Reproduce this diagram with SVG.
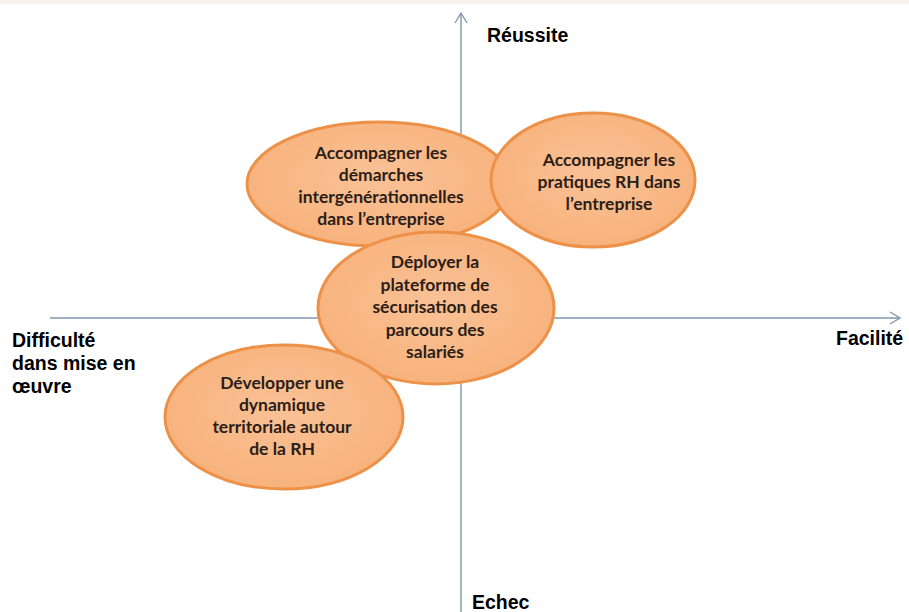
<svg xmlns="http://www.w3.org/2000/svg" width="909" height="612" viewBox="0 0 909 612">
<style>
.ax{stroke:#8196ad;stroke-width:1.4;fill:none}
.el{fill:url(#g);stroke:#EC9147;stroke-width:3}
.t{font-family:Lato,"Noto Sans",sans-serif;font-weight:bold;font-size:17.5px;fill:#2b1d17;text-anchor:middle}
.lab{font-family:"Liberation Sans",Arial,sans-serif;font-weight:bold;font-size:19.5px;fill:#000}
</style>
<defs>
<radialGradient id="g" cx="50%" cy="45%" r="60%">
<stop offset="0" stop-color="#FAC196"/>
<stop offset="1" stop-color="#F7B17A"/>
</radialGradient>
</defs>
<rect x="0" y="0" width="909" height="612" fill="#fff"/>
<rect x="0" y="0" width="909" height="4" fill="#f7f3ea"/>
<g id="axes">
<path class="ax" d="M461,13 V612"/>
<path class="ax" d="M455,23 L461,13 L467,23"/>
<path class="ax" d="M50,318 H900"/>
<path class="ax" d="M890,312 L900,318 L890,324"/>
</g>
<g id="labels">
<text class="lab" x="487" y="42">Réussite</text>
<text class="lab" x="836" y="345">Facilité</text>
<text class="lab" x="472" y="609">Echec</text>
<text class="lab" x="12" y="347">Difficulté</text>
<text class="lab" x="12" y="370">dans mise en</text>
<text class="lab" x="12" y="393">œuvre</text>
</g>
<g id="n1">
<ellipse class="el" cx="379" cy="184" rx="132" ry="62"/>
<text class="t" x="381" y="159">Accompagner les</text>
<text class="t" x="381" y="181">démarches</text>
<text class="t" x="381" y="203">intergénérationnelles</text>
<text class="t" x="381" y="225">dans l’entreprise</text>
</g>
<g id="n2">
<ellipse class="el" cx="593" cy="180" rx="102" ry="67"/>
<text class="t" x="609" y="166">Accompagner les</text>
<text class="t" x="609" y="188">pratiques RH dans</text>
<text class="t" x="609" y="210">l’entreprise</text>
</g>
<g id="n3">
<ellipse class="el" cx="436" cy="308" rx="118" ry="76"/>
<text class="t" x="435" y="268">Déployer la</text>
<text class="t" x="435" y="291">plateforme de</text>
<text class="t" x="435" y="313">sécurisation des</text>
<text class="t" x="435" y="336">parcours des</text>
<text class="t" x="435" y="358">salariés</text>
</g>
<g id="n4">
<ellipse class="el" cx="284" cy="417" rx="119" ry="72"/>
<text class="t" x="282" y="389">Développer une</text>
<text class="t" x="282" y="411">dynamique</text>
<text class="t" x="282" y="433">territoriale autour</text>
<text class="t" x="282" y="455">de la RH</text>
</g>
</svg>
